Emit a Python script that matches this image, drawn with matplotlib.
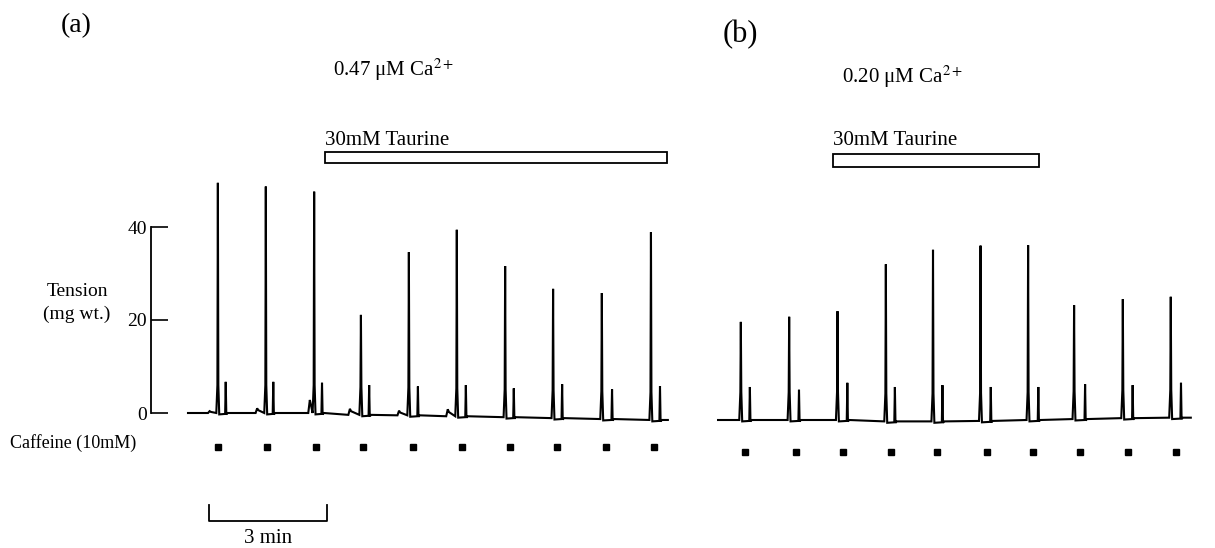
import matplotlib.pyplot as plt
from matplotlib.patches import Rectangle

plt.rcParams['font.family'] = ['Liberation Serif', 'DejaVu Serif']
plt.rcParams['mathtext.fontset'] = 'stix'

# Panel (a): 0.47 uM Ca2+  (time in min, tension in mg wt.)
a_peak_t = [0.76, 1.98, 3.21, 4.40, 5.62, 6.84, 8.07, 9.29, 10.53, 11.78]
a_peak_h = [49.5, 48.7, 47.6, 21.1, 34.6, 39.4, 31.6, 26.7, 25.8, 38.9]
a_second_t = [0.96, 2.17, 3.41, 4.61, 5.85, 7.07, 8.29, 9.52, 10.79, 12.01]
a_second_h = [6.7, 6.7, 6.5, 6.0, 5.7, 6.0, 5.3, 6.2, 5.1, 5.8]
a_base = [0, 0, 0, -0.4, -0.5, -0.7, -0.9, -1.1, -1.3, -1.5]
a_bumps = [(0.55, 0.4), (1.76, 1.0), (3.10, 2.8), (4.12, 1.3), (5.37, 1.0), (6.61, 1.5)]
a_caffeine_t = [0.76, 2.01, 3.26, 4.45, 5.73, 6.97, 8.19, 9.39, 10.64, 11.86]
a_taurine = (3.49, 12.19)
a_trace = (0.0, 12.21)

# Panel (b): 0.20 uM Ca2+
b_peak_t = [0.53, 1.76, 2.99, 4.22, 5.42, 6.63, 7.84, 9.01, 10.25, 11.47]
b_peak_h = [21.1, 22.2, 23.4, 33.5, 36.6, 37.5, 37.6, 24.7, 26.0, 26.5]
b_second_t = [0.76, 2.01, 3.24, 4.45, 5.66, 6.89, 8.10, 9.29, 10.50, 11.73]
b_second_h = [7.1, 6.5, 8.0, 7.1, 7.5, 7.1, 7.1, 7.7, 7.5, 8.0]
b_base = [0, 0, 0, -0.3, -0.3, -0.2, 0, 0.2, 0.4, 0.5]
b_bumps = []
b_caffeine_t = [0.64, 1.93, 3.14, 4.35, 5.53, 6.79, 7.97, 9.16, 10.39, 11.60]
b_taurine = (2.88, 8.12)
b_trace = (-0.05, 11.98)

y_ticks = [0, 20, 40]
scale_bar_min = 3


def build_trace(span, peak_t, peak_h, sec_t, sec_h, base, bumps):
    x, y = [span[0]], [base[0]]
    for tp, hp, ts, hs, b in zip(peak_t, peak_h, sec_t, sec_h, base):
        for tb, hb in bumps:
            if tp - 0.4 < tb < tp:
                x += [tb - 0.04, tb, tb + 0.03]
                y += [b, b + hb, b + hb * 0.6]
        x += [tp - 0.04, tp - 0.012, tp, tp + 0.012, tp + 0.035]
        y += [b, b + 6, hp, b + 6, b - 0.3]
        x += [ts - 0.015, ts, ts + 0.015, ts + 0.05]
        y += [b - 0.2, hs, b - 0.3, b]
    x.append(span[1])
    y.append(base[-1])
    return x, y


fig = plt.figure(figsize=(12.15, 5.48), dpi=100)

# each panel gets a full-figure axes with its own origin (px: 39.3/min, 4.65/mg)
ax_a = fig.add_axes([0, 0, 1, 1])
ax_a.set_xlim(-188 / 39.3, (1215 - 188) / 39.3)
ax_a.set_ylim(-135 / 4.65, (548 - 135) / 4.65)
ax_b = fig.add_axes([0, 0, 1, 1])
ax_b.set_xlim(-720 / 39.3, (1215 - 720) / 39.3)
ax_b.set_ylim(-128 / 4.65, (548 - 128) / 4.65)

for ax in (ax_a, ax_b):
    ax.patch.set_visible(False)
    for s in ('top', 'right', 'bottom'):
        ax.spines[s].set_visible(False)
    ax.set_xticks([])
ax_b.spines['left'].set_visible(False)
ax_b.set_yticks([])

# tension axis of panel (a)
ax_a.spines['left'].set_position(('data', -0.94))
ax_a.spines['left'].set_bounds(0, 40)
ax_a.spines['left'].set_linewidth(1.3)
ax_a.set_yticks(y_ticks)
ax_a.set_yticklabels([str(v) for v in y_ticks], fontsize=14)
ax_a.tick_params(axis='y', direction='in', length=12, width=1.2, pad=3)
ax_a.text(-2.82, 23.6, 'Tension\n(mg wt.)', ha='center', va='center',
          fontsize=14, linespacing=1.45)

panels = [
    (ax_a, a_trace, a_peak_t, a_peak_h, a_second_t, a_second_h, a_base, a_bumps,
     a_caffeine_t, -7.3, a_taurine, (53.8, 56.1), 58.7, '(a)', (-2.85, 83.4), 20,
     '0.47 μM Ca$^{2+}$', 3.69),
    (ax_b, b_trace, b_peak_t, b_peak_h, b_second_t, b_second_h, b_base, b_bumps,
     b_caffeine_t, -6.8, b_taurine, (54.4, 57.2), 60.2, '(b)', (0.51, 82.8), 22,
     '0.20 μM Ca$^{2+}$', 3.10),
]

for (ax, span, pt, ph, st, sh, base, bumps, caff, caff_y, taur, taur_y, taur_txt_y,
     tag, tag_xy, tag_fs, title, title_x) in panels:
    x, y = build_trace(span, pt, ph, st, sh, base, bumps)
    ax.plot(x, y, color='black', lw=1.5, solid_joinstyle='miter')
    ax.plot(caff, [caff_y] * len(caff), 's', color='black', ms=5, clip_on=False)
    ax.add_patch(Rectangle((taur[0], taur_y[0]), taur[1] - taur[0],
                           taur_y[1] - taur_y[0], facecolor='white',
                           edgecolor='black', lw=1.3))
    ax.text(taur[0], taur_txt_y, '30mM Taurine', ha='left', va='center', fontsize=15)
    ax.text(tag_xy[0], tag_xy[1], tag, ha='center', va='center', fontsize=tag_fs)
    ax.text(title_x, 73.8, title, ha='left', va='center', fontsize=15)

ax_a.text(-4.53, -6.5, 'Caffeine (10mM)', ha='left', va='center', fontsize=13)

# 3 min scale bar
sb_x0 = 0.53
ax_a.plot([sb_x0, sb_x0, sb_x0 + scale_bar_min, sb_x0 + scale_bar_min],
          [-19.8, -23.2, -23.2, -19.8], color='black', lw=1.3)
ax_a.text(sb_x0 + scale_bar_min / 2, -26.9, '3 min', ha='center', va='center', fontsize=15)

fig.savefig('out.png', dpi=100)
